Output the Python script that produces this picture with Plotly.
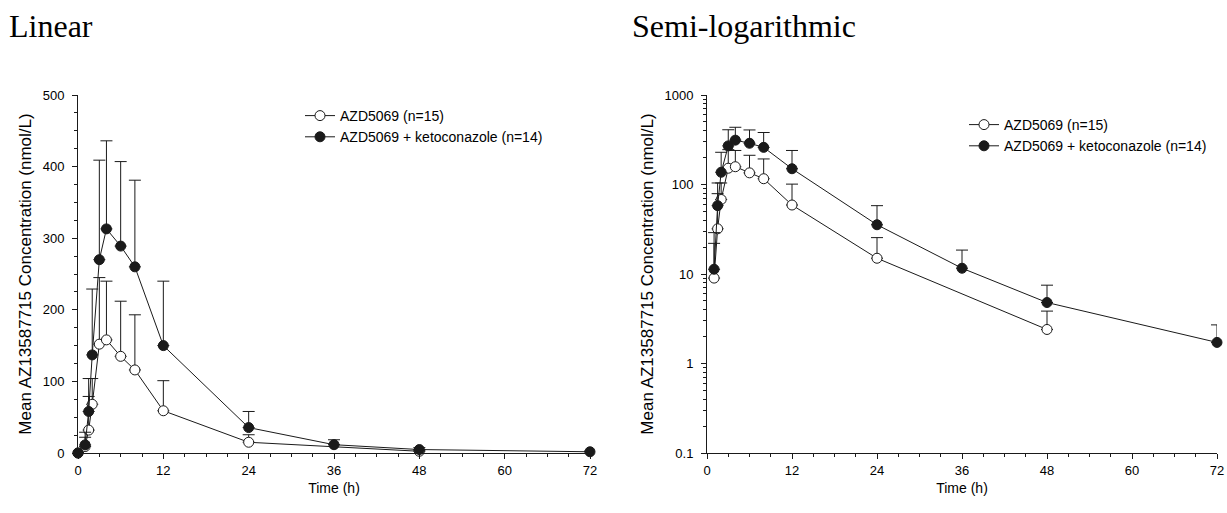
import plotly.graph_objects as go

# ---- data ----
time_azd = [0, 1, 1.5, 2, 3, 4, 6, 8, 12, 24, 48]
mean_azd = [0, 9, 32, 68, 152, 158, 135, 116, 59, 15, 2.4]
sd_azd = [0, 13, 47, 36, 93, 82, 77, 77, 42, 10.5, 1.45]

time_keto = [0, 1, 1.5, 2, 3, 4, 6, 8, 12, 24, 36, 48, 72]
mean_keto = [0, 11.3, 58, 137, 270, 313, 289, 260, 150, 35.5, 11.6, 4.8, 1.72]
sd_keto = [0, 17.7, 46, 92, 139, 123, 118, 121, 90, 22.5, 6.9, 2.7, 0.98]

name_azd = "AZD5069 (n=15)"
name_keto = "AZD5069 + ketoconazole (n=14)"
x_ticks = [0, 12, 24, 36, 48, 60, 72]
lin_ticks = [0, 100, 200, 300, 400, 500]
log_ticks = [0.1, 1, 10, 100, 1000]
log_ticklabels = ["0.1", "1", "10", "100", "1000"]

FONT = "Liberation Sans, Arial, sans-serif"
SERIF = "Liberation Serif, Times New Roman, serif"
INK = "#1a1a1a"

fig = go.Figure()


def add_series(x, y, sd, name, filled, xa, ya, legend, log=False):
    if log:
        pts = [(a, b, c) for a, b, c in zip(x, y, sd) if b > 0]
        x = [p[0] for p in pts]
        y = [p[1] for p in pts]
        sd = [p[2] for p in pts]
    fig.add_trace(go.Scatter(
        x=x, y=y, name=name, mode="lines+markers",
        xaxis=xa, yaxis=ya, legend=legend, cliponaxis=False,
        line=dict(color=INK, width=1),
        marker=dict(symbol="circle", size=10,
                    color=INK if filled else "white",
                    line=dict(color=INK, width=1)),
        error_y=dict(type="data", array=sd, arrayminus=[0] * len(sd),
                     symmetric=False, color=INK, thickness=1, width=6),
    ))


add_series(time_azd, mean_azd, sd_azd, name_azd, False, "x", "y", "legend")
add_series(time_keto, mean_keto, sd_keto, name_keto, True, "x", "y", "legend")
add_series(time_azd, mean_azd, sd_azd, name_azd, False, "x2", "y2", "legend2", log=True)
add_series(time_keto, mean_keto, sd_keto, name_keto, True, "x2", "y2", "legend2", log=True)

W, H = 1227, 513
y_dom = [1 - 453 / H, 1 - 95 / H]

xcommon = dict(
    range=[0, 72], tickvals=x_ticks, ticks="outside", ticklen=5, tickwidth=1,
    tickcolor=INK, showline=True, linecolor=INK, linewidth=1, showgrid=False,
    zeroline=False, automargin=False,
    tickfont=dict(family=FONT, size=13, color="black"),
    minor=dict(dtick=3, ticks="outside", ticklen=3, tickcolor=INK, showgrid=False),
    title=dict(text="Time (h)", font=dict(family=FONT, size=14, color="black"), standoff=6),
)

ytitle = "Mean AZ13587715 Concentration (nmol/L)"
ycommon = dict(
    ticks="outside", ticklen=5, tickcolor=INK, showline=True,
    linecolor=INK, linewidth=1, showgrid=False, zeroline=False, automargin=False,
    ticklabelstandoff=5,
    tickfont=dict(family=FONT, size=13, color="black"),
    title=dict(text=ytitle, font=dict(family=FONT, size=17, color="black"), standoff=6),
)

fig.update_layout(
    width=W, height=H,
    margin=dict(l=0, r=0, t=0, b=0),
    paper_bgcolor="white", plot_bgcolor="white",
    font=dict(family=FONT, size=13, color="black"),
    xaxis=dict(domain=[78 / W, 590 / W], anchor="y", **xcommon),
    yaxis=dict(domain=y_dom, anchor="x", range=[0, 500], tickvals=lin_ticks,
               minor=dict(dtick=25, ticks="outside", ticklen=3, tickcolor=INK, showgrid=False),
               **ycommon),
    xaxis2=dict(domain=[707 / W, 1217 / W], anchor="y2", **xcommon),
    yaxis2=dict(domain=y_dom, anchor="x2", type="log", range=[-1, 3],
                tickvals=log_ticks, ticktext=log_ticklabels,
                minor=dict(dtick="D1", ticks="outside", ticklen=3, tickcolor=INK, showgrid=False),
                **ycommon),
    legend=dict(x=300 / W, y=1 - 100 / H, xanchor="left", yanchor="top",
                bgcolor="rgba(0,0,0,0)", font=dict(family=FONT, size=14, color="black"),
                tracegroupgap=0, itemclick=False),
    legend2=dict(x=964 / W, y=1 - 109 / H, xanchor="left", yanchor="top",
                 bgcolor="rgba(0,0,0,0)", font=dict(family=FONT, size=14, color="black"),
                 tracegroupgap=0, itemclick=False),
    annotations=[
        dict(text="Linear", x=7 / W, y=1 - 26 / H, xref="paper", yref="paper",
             xanchor="left", yanchor="middle", showarrow=False,
             font=dict(family=SERIF, size=32, color="black")),
        dict(text="Semi-logarithmic", x=630 / W, y=1 - 26 / H, xref="paper", yref="paper",
             xanchor="left", yanchor="middle", showarrow=False,
             font=dict(family=SERIF, size=32, color="black")),
    ],
)

fig.write_html("out.html", config={"displayModeBar": False},
               post_script="document.body.style.margin='0';document.body.style.overflow='hidden';")
